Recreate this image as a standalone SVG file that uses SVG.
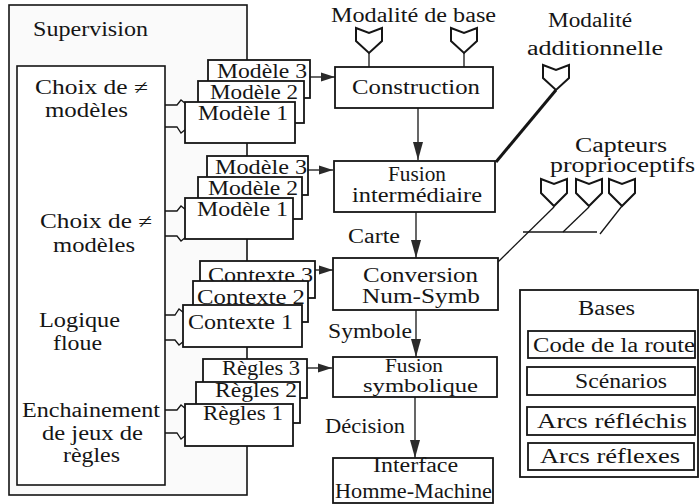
<svg xmlns="http://www.w3.org/2000/svg" width="699" height="504" viewBox="0 0 699 504">
<style>
.t{font-family:"Liberation Serif","Times New Roman",serif;font-size:20px;fill:#151515}
.s{font-size:18px}
.b{fill:#fff;stroke:#151515;stroke-width:1.8}
.ln{fill:none;stroke:#151515;stroke-width:1.3}
.sym{fill:#fff;stroke:#151515;stroke-width:2;stroke-linejoin:miter}
</style>
<defs>
<marker id="ah" viewBox="0 0 14 10" refX="14" refY="5" markerWidth="14" markerHeight="10" markerUnits="userSpaceOnUse" orient="auto">
<path d="M0,0.5 L14,5 L0,9.5 Z" fill="#2a2a2a"/>
</marker>
<marker id="av" viewBox="0 0 18 10" refX="18" refY="5" markerWidth="18" markerHeight="10" markerUnits="userSpaceOnUse" orient="auto">
<path d="M0,0 L18,5 L0,10 Z" fill="#2a2a2a"/>
</marker>
</defs>
<rect width="699" height="504" fill="#fff"/>

<g id="supervision">
<rect x="9" y="5" width="238" height="490" fill="#fafafa" stroke="#151515" stroke-width="1.6"/>
<text class="t" x="33" y="36" textLength="115" lengthAdjust="spacingAndGlyphs">Supervision</text>
</g>

<g id="taches">
<rect x="17" y="66" width="148" height="419" fill="#fff" stroke="#151515" stroke-width="1.6"/>
<text class="t" x="35" y="94" textLength="113" lengthAdjust="spacingAndGlyphs">Choix de ≠</text>
<text class="t" x="45" y="117" textLength="83" lengthAdjust="spacingAndGlyphs">modèles</text>
<text class="t" x="40" y="228" textLength="112" lengthAdjust="spacingAndGlyphs">Choix de ≠</text>
<text class="t" x="53" y="252" textLength="82" lengthAdjust="spacingAndGlyphs">modèles</text>
<text class="t" x="39" y="327" textLength="81" lengthAdjust="spacingAndGlyphs">Logique</text>
<text class="t" x="53" y="350" textLength="49" lengthAdjust="spacingAndGlyphs">floue</text>
<text class="t" x="22" y="417" textLength="138" lengthAdjust="spacingAndGlyphs">Enchainement</text>
<text class="t" x="42" y="440" textLength="101" lengthAdjust="spacingAndGlyphs">de jeux de</text>
<text class="t" x="63" y="462" textLength="57" lengthAdjust="spacingAndGlyphs">règles</text>
</g>

<g id="connectors">
<polyline class="ln" points="165,105 177,105 181,100 186,104"/>
<polyline class="ln" points="165,127 177,127 181,133 186,129"/>
<polyline class="ln" points="165,211 177,211 181,206 186,210"/>
<polyline class="ln" points="165,236 177,236 181,241 186,237"/>
<polyline class="ln" points="165,315 175,315 179,309 184,313"/>
<polyline class="ln" points="165,340 175,340 179,345 184,341"/>
<polyline class="ln" points="165,410 177,410 181,405 186,409"/>
<polyline class="ln" points="165,433 177,433 181,439 186,435"/>
<line class="ln" x1="310" y1="77" x2="335" y2="77" marker-end="url(#ah)"/>
<line class="ln" x1="308" y1="170" x2="333" y2="170" marker-end="url(#ah)"/>
<line class="ln" x1="315" y1="270" x2="333" y2="270" marker-end="url(#ah)"/>
<line class="ln" x1="307" y1="368" x2="332" y2="368" marker-end="url(#ah)"/>
<line class="ln" x1="418" y1="108" x2="418" y2="160" marker-end="url(#av)"/>
<line class="ln" x1="416" y1="212" x2="416" y2="258" marker-end="url(#av)"/>
<line class="ln" x1="416" y1="310" x2="416" y2="357" marker-end="url(#av)"/>
<line class="ln" x1="415" y1="397" x2="415" y2="458" marker-end="url(#av)"/>
<line class="ln" x1="369" y1="53" x2="369" y2="67"/>
<line class="ln" x1="464" y1="53" x2="464" y2="67"/>
<line x1="556" y1="90" x2="496" y2="162" stroke="#151515" stroke-width="3"/>
<line class="ln" x1="554" y1="207" x2="498" y2="262"/>
<line class="ln" x1="589" y1="207" x2="563" y2="232"/>
<line class="ln" x1="622" y1="206" x2="600" y2="234"/>
<line class="ln" x1="523" y1="232" x2="597" y2="232"/>
</g>

<g id="stack-modeles-1">
<rect class="b" x="208" y="60" width="102" height="38"/>
<text class="t" x="217" y="78" textLength="90" lengthAdjust="spacingAndGlyphs">Modèle 3</text>
<rect class="b" x="198" y="81" width="106" height="42"/>
<text class="t" x="210" y="99" textLength="88" lengthAdjust="spacingAndGlyphs">Modèle 2</text>
<rect class="b" x="185" y="102" width="110" height="41"/>
<text class="t" x="198" y="120" textLength="90" lengthAdjust="spacingAndGlyphs">Modèle 1</text>
</g>

<g id="stack-modeles-2">
<rect class="b" x="207" y="156" width="101" height="39"/>
<text class="t" x="215" y="174" textLength="92" lengthAdjust="spacingAndGlyphs">Modèle 3</text>
<rect class="b" x="198" y="177" width="104" height="42"/>
<text class="t" x="208" y="195" textLength="90" lengthAdjust="spacingAndGlyphs">Modèle 2</text>
<rect class="b" x="185" y="198" width="108" height="41"/>
<text class="t" x="197" y="216" textLength="91" lengthAdjust="spacingAndGlyphs">Modèle 1</text>
</g>

<g id="stack-contextes">
<rect class="b" x="200" y="261" width="115" height="37"/>
<text class="t" x="208" y="282" textLength="105" lengthAdjust="spacingAndGlyphs">Contexte 3</text>
<rect class="b" x="193" y="281" width="115" height="41"/>
<text class="t" x="197" y="304" textLength="108" lengthAdjust="spacingAndGlyphs">Contexte 2</text>
<rect class="b" x="183" y="305" width="119" height="42"/>
<text class="t" x="188" y="329" textLength="105" lengthAdjust="spacingAndGlyphs">Contexte 1</text>
</g>

<g id="stack-regles">
<rect class="b" x="203" y="359" width="104" height="39"/>
<text class="t" x="222" y="375" textLength="78" lengthAdjust="spacingAndGlyphs">Règles 3</text>
<rect class="b" x="196" y="382" width="104" height="41"/>
<text class="t" x="215" y="397" textLength="82" lengthAdjust="spacingAndGlyphs">Règles 2</text>
<rect class="b" x="185" y="404" width="108" height="42"/>
<text class="t" x="203" y="420" textLength="80" lengthAdjust="spacingAndGlyphs">Règles 1</text>
</g>

<g id="modalite-base">
<text class="t" x="331" y="22" textLength="165" lengthAdjust="spacingAndGlyphs">Modalité de base</text>
<path class="sym" d="M356,28 L369,33 L382,28 L382,41 L369,53 L356,41 Z"/>
<path class="sym" d="M451,28 L464,33 L477,28 L477,41 L464,53 L451,41 Z"/>
</g>

<g id="modalite-additionnelle">
<text class="t" x="548" y="27" textLength="84" lengthAdjust="spacingAndGlyphs">Modalité</text>
<text class="t" x="527" y="55" textLength="136" lengthAdjust="spacingAndGlyphs">additionnelle</text>
<path class="sym" d="M543,65 L556,70 L569,65 L569,78 L556,90 L543,78 Z"/>
</g>

<g id="capteurs">
<text class="t" x="575" y="152" textLength="92" lengthAdjust="spacingAndGlyphs">Capteurs</text>
<text class="t" x="550" y="172" textLength="145" lengthAdjust="spacingAndGlyphs">proprioceptifs</text>
<path class="sym" d="M541,179 L554,184 L567,179 L567,193 L554,206 L541,193 Z"/>
<path class="sym" d="M576,179 L589,184 L602,179 L602,193 L589,206 L576,193 Z"/>
<path class="sym" d="M609,179 L622,184 L635,179 L635,193 L622,206 L609,193 Z"/>
</g>

<g id="construction">
<rect class="b" x="335" y="67" width="158" height="41"/>
<text class="t" x="352" y="94" textLength="128" lengthAdjust="spacingAndGlyphs">Construction</text>
</g>

<g id="fusion-intermediaire">
<rect class="b" x="334" y="161" width="161" height="51"/>
<text class="t" x="388" y="181" textLength="58" lengthAdjust="spacingAndGlyphs">Fusion</text>
<text class="t" x="352" y="202" textLength="130" lengthAdjust="spacingAndGlyphs">intermédiaire</text>
</g>

<g id="conversion">
<rect class="b" x="333" y="258" width="165" height="52"/>
<text class="t" x="363" y="282" textLength="115" lengthAdjust="spacingAndGlyphs">Conversion</text>
<text class="t" x="362" y="303" textLength="118" lengthAdjust="spacingAndGlyphs">Num-Symb</text>
</g>

<g id="fusion-symbolique">
<rect class="b" x="333" y="357" width="164" height="40"/>
<text class="t s" x="385" y="372" textLength="58" lengthAdjust="spacingAndGlyphs">Fusion</text>
<text class="t s" x="363" y="392" textLength="115" lengthAdjust="spacingAndGlyphs">symbolique</text>
</g>

<g id="ihm">
<rect class="b" x="333" y="458" width="160" height="45"/>
<text class="t" x="373" y="472" textLength="85" lengthAdjust="spacingAndGlyphs">Interface</text>
<text class="t" x="335" y="498" textLength="157" lengthAdjust="spacingAndGlyphs">Homme-Machine</text>
</g>

<g id="labels">
<text class="t" x="348" y="243" textLength="52" lengthAdjust="spacingAndGlyphs">Carte</text>
<text class="t" x="328" y="338" textLength="84" lengthAdjust="spacingAndGlyphs">Symbole</text>
<text class="t" x="325" y="433" textLength="80" lengthAdjust="spacingAndGlyphs">Décision</text>
</g>

<g id="bases">
<rect class="b" x="520" y="290" width="178" height="187"/>
<text class="t" x="578" y="315" textLength="57" lengthAdjust="spacingAndGlyphs">Bases</text>
<text class="t" x="533" y="352" textLength="162" lengthAdjust="spacingAndGlyphs">Code de la route</text>
<rect x="528" y="331" width="167" height="27" fill="none" stroke="#151515" stroke-width="1.8"/>
<rect class="b" x="527" y="367" width="168" height="28"/>
<text class="t" x="575" y="388" textLength="92" lengthAdjust="spacingAndGlyphs">Scénarios</text>
<rect class="b" x="527" y="407" width="168" height="28"/>
<text class="t" x="537" y="428" textLength="150" lengthAdjust="spacingAndGlyphs">Arcs réfléchis</text>
<rect class="b" x="528" y="443" width="166" height="27"/>
<text class="t" x="540" y="463" textLength="140" lengthAdjust="spacingAndGlyphs">Arcs réflexes</text>
</g>
</svg>
